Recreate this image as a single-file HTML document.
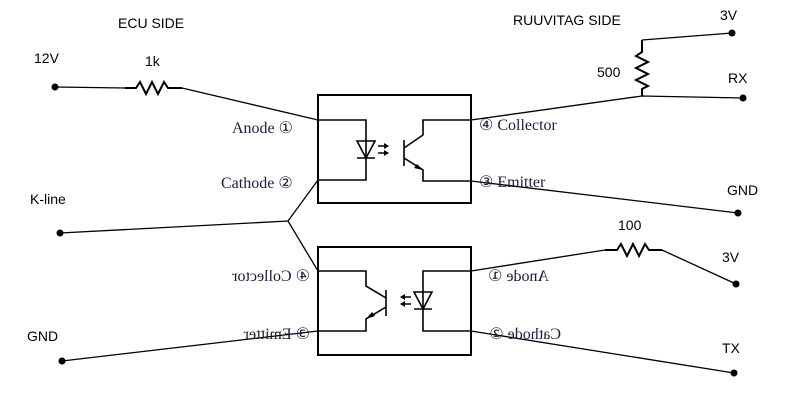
<!DOCTYPE html>
<html><head><meta charset="utf-8"><style>
body{margin:0;background:#fff}
svg{display:block}
.s{font-family:"Liberation Sans",sans-serif;font-size:14px;fill:#000}
.r{font-family:"Liberation Serif",serif;font-size:16px;fill:#1c1c3a}
</style></head><body>
<svg width="800" height="400" viewBox="0 0 800 400">
<g stroke="#000" fill="none" stroke-width="1.3">
 <path d="M55 87 L125 88"/>
 <path d="M182 88 L318 120"/>
 <path d="M60 233 L288 221 L318 180 M288 221 L318 271"/>
 <path d="M62 361 L318 331"/>
 <path d="M471 120 L642 96 L743 98"/>
 <path d="M642 40 L732 33"/>
 <path d="M471 181 L738 213"/>
 <path d="M471 271 L605 250"/>
 <path d="M662 250 L736 284"/>
 <path d="M471 331 L734 373"/>
 <path stroke-width="2" d="M125 88 L136 88 L140 82 L146 94 L152 82 L158 94 L164 82 L168 88 L182 88"/>
 <path stroke-width="2" d="M642 40 L642 52 L636 56 L648 62 L636 68 L648 74 L636 80 L648 86 L642 89 L642 96"/>
 <path stroke-width="2" d="M605 250 L617 250 L621 244 L627 256 L633 244 L639 256 L645 244 L649 250 L662 250"/>
 <rect x="318" y="95" width="153" height="108" stroke-width="2"/>
 <path stroke-width="1.6" d="M318 120 L366 120 L366 180 L318 180 M471 120 L423 120 L423 135 L404 148 M404 140 L404 166 M404 158 L423 170 L423 181 L471 181"/>
 <path stroke-width="1.6" d="M357 141 L375 141 L366 158 Z M357 158 L375 158"/>
 <path stroke-width="1.6" d="M378 146 L388 146 M378 153 L388 153"/>
 <path fill="#000" stroke="none" d="M389 146 L384 143 L384 149 Z M389 153 L384 150 L384 156 Z M423 170 L414 168 L417 164 Z"/>
 <rect x="318" y="247" width="153" height="108" stroke-width="2"/>
 <path stroke-width="1.6" d="M318 271 L366 271 L366 286 L386 298 M386 290 L386 316 M386 307 L366 319 L366 331 L318 331 M471 271 L423 271 L423 331 L471 331"/>
 <path stroke-width="1.6" d="M414 292 L432 292 L423 309 Z M414 309 L432 309"/>
 <path stroke-width="1.6" d="M401 297 L411 297 M401 304 L411 304"/>
 <path fill="#000" stroke="none" d="M400 297 L405 294 L405 300 Z M400 304 L405 301 L405 307 Z M366 319 L372 312 L375 316 Z"/>
</g>
<g fill="#000">
 <circle cx="55" cy="87" r="3.5"/>
 <circle cx="60" cy="233" r="3.5"/>
 <circle cx="62" cy="361" r="3.5"/>
 <circle cx="732" cy="33" r="3.5"/>
 <circle cx="743" cy="98" r="3.5"/>
 <circle cx="738" cy="213" r="3.5"/>
 <circle cx="736" cy="284" r="3.5"/>
 <circle cx="734" cy="373" r="3.5"/>
</g>
<text class="s" x="118" y="28">ECU SIDE</text>
<text class="s" x="513" y="25">RUUVITAG SIDE</text>
<text class="s" x="720" y="20">3V</text>
<text class="s" x="34" y="63">12V</text>
<text class="s" x="145" y="66">1k</text>
<text class="s" x="597" y="77">500</text>
<text class="s" x="728" y="83">RX</text>
<text class="s" x="30" y="204">K-line</text>
<text class="s" x="727" y="195">GND</text>
<text class="s" x="618" y="230">100</text>
<text class="s" x="722" y="262">3V</text>
<text class="s" x="27" y="341">GND</text>
<text class="s" x="722" y="353">TX</text>
<text class="r" x="232" y="133">Anode ①</text>
<text class="r" x="221" y="188">Cathode ②</text>
<text class="r" x="479" y="130">④ Collector</text>
<text class="r" x="479" y="187">③ Emitter</text>
<g transform="scale(-1,1)">
 <text class="r" x="-310" y="281">④ Collector</text>
 <text class="r" x="-310" y="339">③ Emitter</text>
 <text class="r" x="-549" y="281">Anode ①</text>
 <text class="r" x="-561" y="339">Cathode ②</text>
</g>
</svg>
</body></html>
